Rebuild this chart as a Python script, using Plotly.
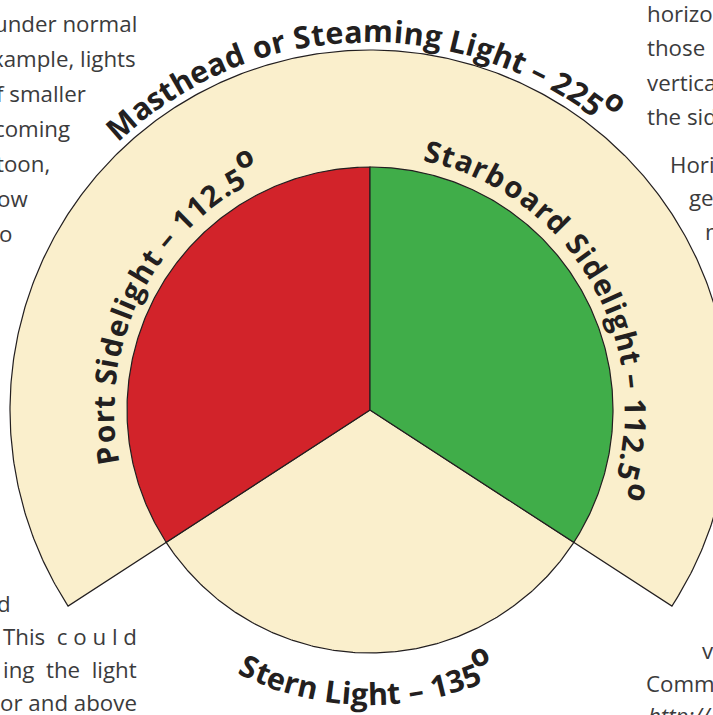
import numpy as np
import plotly.graph_objects as go

# ---------------- data ----------------
light_names = ["Masthead or Steaming Light", "Port Sidelight", "Starboard Sidelight", "Stern Light"]
light_arc_deg = [225, 112.5, 112.5, 135]          # labelled arc of visibility
# sectors as drawn in the picture (bearing, clockwise from dead ahead)
sector_from = [-123, -123, 0, 123]
sector_to = [123, 0, 123, 237]
sector_reach = [360, 243, 243, 243]
sector_colors = ["#FAEFCC", "#D2232A", "#40AD49", "#FAEFCC"]

# surrounding page text fragments (cropped by the figure frame)
page_text = ["under normal", "xample, lights", "f smaller", "coming", "toon,", "ow", "o",
             "d", "This  c o u l d", "ing  the  light", "or and above",
             "horizontal", "those", "vertical", "the side", "Horizontal", "ge", "n",
             "v", "Commons", "http://"]

# ---------------- layout helpers ----------------
W, H = 713, 715
CX, CY = 370, 410
INK = "#231F20"

fig = go.Figure()

order = [0, 3, 1, 2]
for i in order:
    a0, a1, r = sector_from[i], sector_to[i], sector_reach[i]
    n = int(abs(a1 - a0) * 2) + 1
    ang = np.radians(np.linspace(a0, a1, n))
    xs = np.concatenate([[CX], CX + r * np.sin(ang), [CX]])
    ys = np.concatenate([[CY], CY - r * np.cos(ang), [CY]])
    fig.add_trace(go.Scatter(x=xs, y=ys, mode="lines", fill="toself",
                             fillcolor=sector_colors[i],
                             line=dict(color=INK, width=1.2),
                             hoverinfo="skip", showlegend=False,
                             name=light_names[i]))

CHAR_W = {
    'M': .97, 'a': .60, 's': .50, 't': .43, 'h': .66, 'e': .60, 'd': .66, ' ': .26,
    'o': .64, 'r': .46, 'S': .57, 'm': .99, 'i': .31, 'n': .66, 'g': .58, 'L': .55,
    '–': .50, '1': .57, '2': .57, '3': .57, '5': .57, '.': .29, 'P': .63, 'l': .31,
    'b': .66,
}

# label placement: (start bearing, end bearing, baseline radius, tops outward?, size)
label_place = [(-43.4, 39.7, 368, True, 30.5),
               (-102.0, -24.9, 256, True, 29.5),
               (11.7, 108.9, 255, True, 29.5),
               (206.9, 154.5, 295, False, 30.5)]

annotations = []


def fmt(v):
    return ("%g" % v)


for name, deg, (a0, a1, rb, outward, size) in zip(light_names, light_arc_deg, label_place):
    text = f"{name} – {fmt(deg)}"
    chars = list(text) + ["o"]
    widths = [CHAR_W.get(c, .6) for c in chars]
    widths[-1] = 0.5
    total = sum(widths)
    cum = 0.0
    sign = 1 if outward else -1
    for k, (c, w) in enumerate(zip(chars, widths)):
        frac = (cum + w / 2) / total
        cum += w
        if c == " ":
            continue
        th = a0 + frac * (a1 - a0)
        rc = rb + sign * 0.388 * size
        if k == len(chars) - 1:
            rc += sign * 16
        t = np.radians(th)
        annotations.append(dict(
            x=CX + rc * np.sin(t), y=CY - rc * np.cos(t), xref="x", yref="y",
            text=c, showarrow=False, textangle=th if outward else th - 180,
            xanchor="center", yanchor="middle",
            font=dict(family="Open Sans", size=size, color=INK, weight=700)))

# page text placement: (anchor x px, baseline y px, anchor side)
page_place = [(139, 32, "right"), (138, 67, "right"), (88, 102, "right"), (72, 137, "right"),
              (52, 172, "right"), (30, 207, "right"), (14, 242, "right"),
              (13, 612, "right"), (139, 645, "right"), (139, 678, "right"), (139, 711, "right"),
              (645, 22, "left"), (645, 56, "left"), (645, 91, "left"), (645, 125, "left"),
              (668, 173, "left"), (687, 206, "left"), (703, 240, "left"),
              (700, 659, "left"), (644, 692, "left"), (646, 724, "left")]
PF = 22.3
for txt, (px, py, side) in zip(page_text, page_place):
    cy = py - 0.388 * PF
    annotations.append(dict(
        x=px / W, y=1 - cy / H, xref="paper", yref="paper",
        text=txt if not txt.startswith("http") else f"<i>{txt}</i>",
        showarrow=False, xanchor=side, yanchor="middle",
        font=dict(family="Open Sans", size=PF, color="#3B3B3C", weight=400)))

fig.update_layout(
    width=W, height=H, margin=dict(l=0, r=0, t=0, b=0),
    paper_bgcolor="white", plot_bgcolor="white",
    xaxis=dict(range=[0, W], visible=False, fixedrange=True),
    yaxis=dict(range=[H, 0], visible=False, fixedrange=True),
    annotations=annotations, showlegend=False,
)

fig.write_html("out.html", config={"displayModeBar": False},
               post_script="document.body.style.margin='0';document.body.style.overflow='hidden';")
